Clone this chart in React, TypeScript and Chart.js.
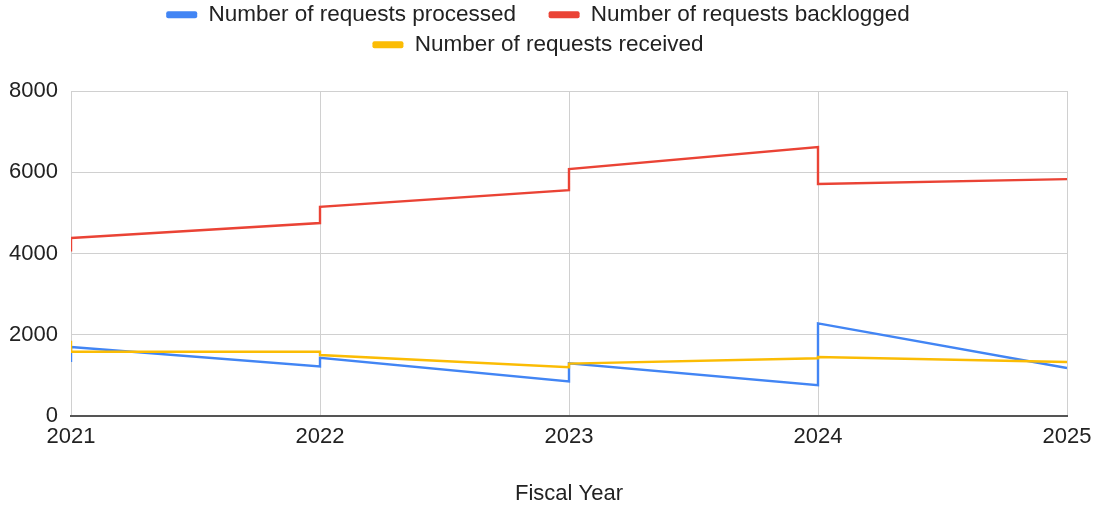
import { useEffect, useRef } from 'react';
import { Chart, registerables } from 'chart.js';

Chart.register(...registerables);

// Fiscal year positions (each year appears twice: the line jumps at every year boundary)
const fiscalYears = [2021, 2021, 2022, 2022, 2023, 2023, 2024, 2024, 2025];
const processed = [1330, 1700, 1220, 1430, 850, 1300, 760, 2280, 1180];
const backlogged = [4050, 4380, 4750, 5150, 5560, 6080, 6620, 5710, 5830];
const received = [1850, 1580, 1580, 1500, 1200, 1290, 1420, 1450, 1330];

const seriesNames = [
  'Number of requests processed',
  'Number of requests backlogged',
  'Number of requests received',
];
const seriesColors = ['#4285F4', '#EA4335', '#FBBC04'];
const xTickYears = [2021, 2022, 2023, 2024, 2025];
const yTickValues = [0, 2000, 4000, 6000, 8000];
const xAxisTitle = 'Fiscal Year';

const FONT_FAMILY = '"Liberation Sans", Arial, Helvetica, sans-serif';

export default function App() {
  const ref = useRef<HTMLCanvasElement | null>(null);

  useEffect(() => {
    if (!ref.current) return;
    const font = { family: FONT_FAMILY, size: 22 };
    const legendFont = { family: FONT_FAMILY, size: 22.5 };
    const toPts = (vals: number[]) => vals.map((y, i) => ({ x: fiscalYears[i], y }));
    const seriesValues = [processed, backlogged, received];

    const legendBox = {
      id: 'legendBox',
      beforeInit(chart: any) {
        const fit = chart.legend.fit;
        chart.legend.fit = function () {
          fit.call(this);
          this.height = 95;
        };
      },
    };

    const chart = new Chart(ref.current, {
      type: 'line',
      data: {
        datasets: seriesNames.map((name, i) => ({
          label: name,
          data: toPts(seriesValues[i]),
          borderColor: seriesColors[i],
          backgroundColor: seriesColors[i],
          borderWidth: 2.4,
          pointRadius: 0,
          pointHoverRadius: 0,
          tension: 0,
          fill: false,
          order: i === 2 ? 0 : i === 1 ? 1 : 2,
        })),
      },
      options: {
        animation: false,
        responsive: false,
        maintainAspectRatio: false,
        parsing: true,
        layout: { padding: { top: -4, left: 0, right: -6, bottom: 0 } },
        plugins: {
          tooltip: { enabled: false },
          legend: {
            display: true,
            position: 'top',
            align: 'center',
            labels: {
              font: legendFont,
              color: '#222',
              boxWidth: 31,
              boxHeight: 7,
              padding: 7.5,
              useBorderRadius: true,
              borderRadius: 2,
              generateLabels: (c: any) =>
                c.data.datasets.map((ds: any, i: number) => ({
                  text: ds.label + '    ',
                  fillStyle: seriesColors[i],
                  strokeStyle: seriesColors[i],
                  lineWidth: 0,
                  fontColor: '#222',
                  hidden: false,
                  datasetIndex: i,
                  borderRadius: 2,
                })),
            },
          },
        },
        scales: {
          x: {
            type: 'linear',
            min: xTickYears[0],
            max: xTickYears[xTickYears.length - 1],
            afterBuildTicks: (scale: any) => {
              scale.ticks = xTickYears.map((v) => ({ value: v }));
            },
            afterFit: (scale: any) => {
              scale.height = 91;
              scale.paddingRight = 28;
              scale.paddingLeft = 0;
            },
            ticks: {
              font,
              color: '#222',
              padding: 8,
              maxRotation: 0,
              autoSkip: false,
              callback: (v: any) => String(v),
            },
            grid: { color: '#d0d0d0', lineWidth: 1, drawTicks: false },
            border: { display: true, color: '#555', width: 2 },
            title: {
              display: true,
              text: xAxisTitle,
              font,
              color: '#222',
              padding: { top: 0, bottom: 0 },
            },
          },
          y: {
            type: 'linear',
            min: yTickValues[0],
            max: yTickValues[yTickValues.length - 1],
            afterBuildTicks: (scale: any) => {
              scale.ticks = yTickValues.map((v) => ({ value: v }));
            },
            afterFit: (scale: any) => {
              scale.width = 71;
            },
            ticks: {
              font,
              color: '#222',
              padding: 13,
              callback: (v: any) => String(v),
            },
            grid: {
              color: (ctx: any) => (ctx.tick && ctx.tick.value === 0 ? 'rgba(0,0,0,0)' : '#d0d0d0'),
              lineWidth: 1,
              drawTicks: false,
            },
            border: { display: false },
          },
        },
      },
      plugins: [legendBox],
    } as any);

    return () => chart.destroy();
  }, []);

  return (
    <div style={{ position: 'absolute', left: 0, top: 0, width: 1095, height: 507, background: '#fff' }}>
      <canvas ref={ref} width={1095} height={507} style={{ display: 'block' }} />
    </div>
  );
}
